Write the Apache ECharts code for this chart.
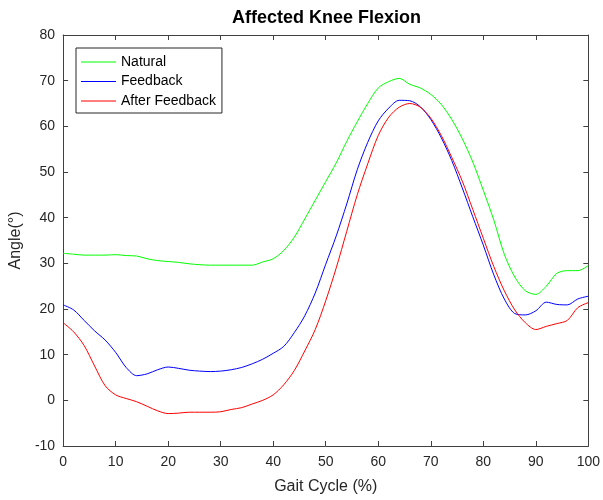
<!DOCTYPE html>
<html>
<head>
<meta charset="utf-8">
<script src="https://cdn.jsdelivr.net/npm/echarts@6/dist/echarts.min.js"></script>
<style>html,body{margin:0;padding:0;background:#fff;}#c{width:603px;height:500px;}</style>
</head>
<body>
<div id="c"></div>
<script>
var gaitCycle = [0,2,4,6,8,10,12,14,16,18,20,22,24,26,28,30,32,34,36,38,40,42,44,46,48,50,52,54,56,58,60,62,64,66,68,70,72,74,76,78,80,82,84,86,88,90,92,94,96,98,100];
var natural = [32.2,32.0,31.8,31.8,31.8,31.9,31.7,31.6,31.0,30.6,30.4,30.2,29.9,29.7,29.6,29.6,29.6,29.6,29.6,30.3,31.0,32.8,35.7,39.7,43.8,47.9,52.0,56.7,61.0,65.0,68.4,69.8,70.5,69.2,68.4,67.0,64.8,61.5,57.3,52.2,46.0,39.5,32.0,27.0,24.0,23.2,25.0,27.8,28.4,28.4,29.5];
var feedback = [20.9,19.8,17.5,15.2,13.2,10.5,7.2,5.4,5.8,6.7,7.3,7.0,6.6,6.4,6.3,6.4,6.7,7.2,8.0,9.0,10.3,11.8,14.8,18.5,23.5,29.8,36.0,43.0,50.5,56.5,61.2,64.0,65.7,65.6,64.3,61.5,57.5,52.5,46.5,40.2,34.0,27.5,22.2,19.0,18.7,19.6,21.5,21.0,20.9,22.2,22.8];
var afterFeedback = [17.0,15.0,12.0,7.5,3.2,1.2,0.4,-0.3,-1.3,-2.3,-2.9,-2.8,-2.6,-2.6,-2.6,-2.5,-2.0,-1.6,-0.8,0.0,1.2,3.4,6.5,10.8,15.5,21.8,29.0,37.0,45.0,51.8,58.0,62.0,64.2,65.0,64.2,61.8,58.0,53.2,48.0,41.8,35.5,29.3,24.0,19.8,17.0,15.5,16.2,16.8,17.5,20.3,21.4];
var seriesNames = ['Natural','Feedback','After Feedback'];
var seriesColors = ['#00ff00','#0000ff','#ff0000'];
var xTicks = {min:0, max:100, interval:10};
var yTicks = {min:-10, max:80, interval:10};

function pairs(ys){ return gaitCycle.map(function(x,i){ return [x, ys[i]]; }); }
var FONT = '"Liberation Sans", Arial, Helvetica, sans-serif';
var AX = '#404040';
var TXT = '#262626';
function axisCommon(extra){
  var o = {
    type:'value', splitLine:{show:false},
    axisLine:{show:true, onZero:false, lineStyle:{color:AX, width:1}},
    axisTick:{show:true, inside:true, length:5, lineStyle:{color:AX}},
    axisLabel:{color:TXT, fontSize:14, fontFamily:FONT}
  };
  for (var k in extra) o[k]=extra[k];
  return o;
}
var chart = echarts.init(document.getElementById('c'), null, {renderer:'canvas'});
var dataSets = [natural, feedback, afterFeedback];
chart.setOption({
  animation:false,
  backgroundColor:'#fff',
  title:{text:'Affected Knee Flexion', left:232, top:9, padding:0,
    textStyle:{fontSize:18, fontWeight:'bold', color:'#000', fontFamily:FONT}},
  grid:{left:63, right:14, top:35, bottom:50, containLabel:false},
  legend:{
    orient:'vertical', left:76, top:48,
    data:seriesNames,
    itemWidth:35, itemHeight:14, itemGap:5.5,
    padding:[7,6,5,5],
    borderColor:'#262626', borderWidth:1, backgroundColor:'#fff',
    textStyle:{fontSize:14, color:'#000', fontFamily:FONT},
    icon:'path://M0,0 L35,0 L35,1 L0,1 Z'
  },
  xAxis:[
    axisCommon({min:xTicks.min, max:xTicks.max, interval:xTicks.interval,
      name:'Gait Cycle (%)', nameLocation:'middle', nameGap:33,
      nameTextStyle:{fontSize:16, color:TXT, fontFamily:FONT},
      axisLabel:{color:TXT, fontSize:14, fontFamily:FONT, margin:9}}),
    axisCommon({position:'top', min:xTicks.min, max:xTicks.max, interval:xTicks.interval, axisLabel:{show:false}})
  ],
  yAxis:[
    axisCommon({min:yTicks.min, max:yTicks.max, interval:yTicks.interval,
      name:'Angle(°)', nameLocation:'middle', nameGap:30, nameRotate:90,
      nameTextStyle:{fontSize:16, color:TXT, fontFamily:FONT},
      axisLabel:{color:TXT, fontSize:14, fontFamily:FONT, margin:8}}),
    axisCommon({position:'right', min:yTicks.min, max:yTicks.max, interval:yTicks.interval, axisLabel:{show:false}})
  ],
  series: dataSets.map(function(d,i){
    return {
      name:seriesNames[i], type:'line', data:pairs(d), symbol:'none', smooth:0.3,
      lineStyle:{color:seriesColors[i], width:1}, itemStyle:{color:seriesColors[i]}
    };
  })
});
</script>
</body>
</html>
